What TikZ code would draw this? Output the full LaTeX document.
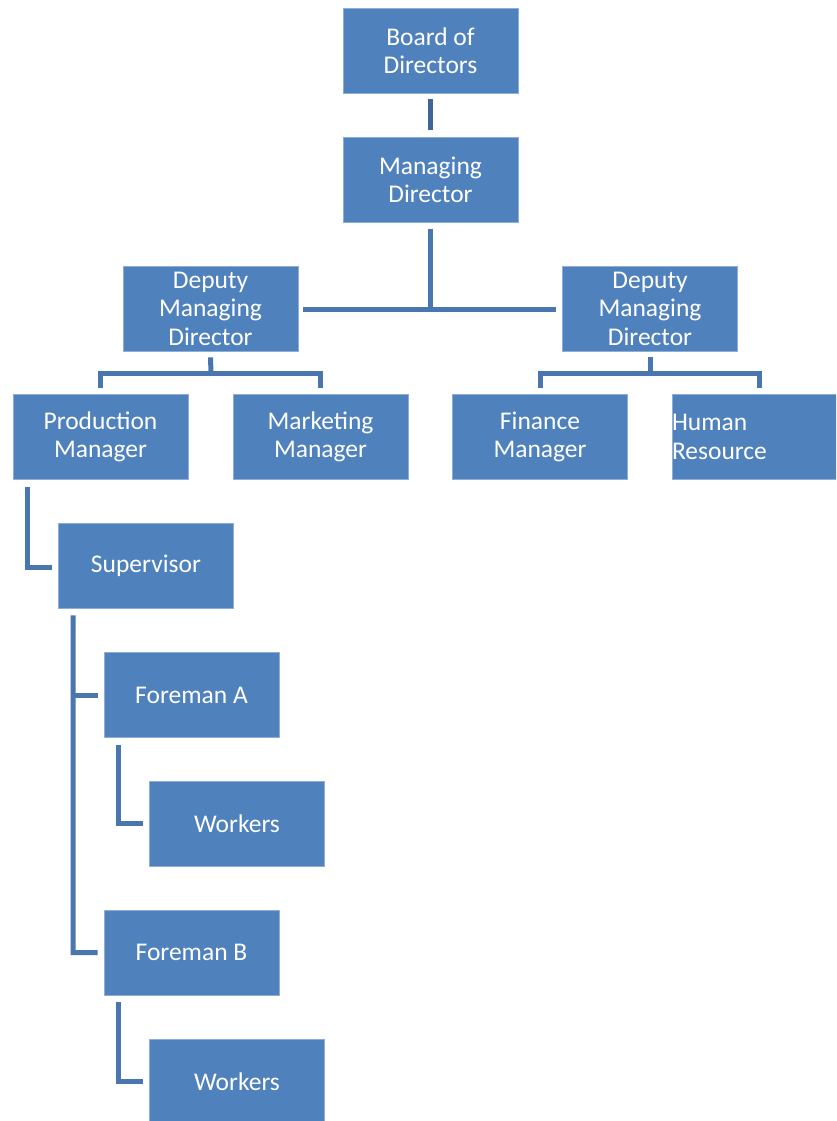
\documentclass[tikz,border=0pt]{standalone}
\usepackage{fontspec}
\setmainfont{Carlito}
\definecolor{boxfill}{HTML}{4F81BD}
\definecolor{boxline}{HTML}{8EAEDA}
\definecolor{conn}{HTML}{4A76AF}
\definecolor{conndark}{HTML}{3E6698}
\begin{document}
\begin{tikzpicture}[x=1pt,y=-1pt,
  orgbox/.style={rectangle,fill=boxfill,draw=boxline,line width=0.8pt,
    minimum width=175pt,minimum height=85pt,inner sep=0pt,text=white,
    align=center,font=\fontsize{25.5}{28.5}\selectfont},
  link/.style={draw=conn,line width=5pt,line join=miter},
  linkdark/.style={draw=conndark,line width=5pt}]
\useasboundingbox (0,0) rectangle (836,1121);
\clip (0,0) rectangle (836,1121);
\fill[white] (0,0) rectangle (836,1121);
% boxes
\node[orgbox] (bod) at (430.5,50.5) {Board of\\Directors};
\node[orgbox] (md) at (430.5,180) {Managing\\Director};
\node[orgbox] (dl) at (210.5,308.5) {Deputy\\Managing\\Director};
\node[orgbox] (dr) at (650,308.5) {Deputy\\Managing\\Director};
\node[orgbox] (pm) at (100.5,437) {Production\\Manager};
\node[orgbox] (mm) at (320.5,437) {Marketing\\Manager};
\node[orgbox] (fm) at (540,437) {Finance\\Manager};
\node[orgbox,text width=175pt,align=left] (hr) at (759.5,437) {Human\\Resource};
\node[orgbox] (sup) at (146,565.5) {Supervisor};
\node[orgbox] (fa) at (191.5,695) {Foreman A};
\node[orgbox] (wa) at (237,823.5) {Workers};
\node[orgbox] (fb) at (191.5,952.5) {Foreman B};
\node[orgbox] (wb) at (237,1081.5) {Workers};
% connectors
\draw[linkdark] ([yshift=-6pt]bod.south) -- ([yshift=7pt]md.north);
\coordinate (mdj) at (430.5,309);
\draw[link] ([yshift=-6pt]md.south) -- (mdj);
\draw[link] ([xshift=5pt]dl.east |- mdj) -- ([xshift=-6pt]dr.west |- mdj);
% left bracket
\coordinate (lj) at (211,373);
\draw[link] ([yshift=-6pt]dl.south) -- (lj);
\draw[link] ([yshift=6pt]pm.north) |- (lj) -| ([yshift=6pt]mm.north);
% right bracket
\coordinate (rj) at (650,373);
\draw[link] ([yshift=-6pt]dr.south) -- (rj);
\draw[link] ([yshift=6pt]fm.north) |- (rj) -| ([xshift=88pt,yshift=6pt]hr.north west);
% production manager -> supervisor
\draw[link] ([xshift=15pt,yshift=-7pt]pm.south west) |- ([xshift=-6pt,yshift=-1.5pt]sup.west);
% supervisor -> foremen
\coordinate (sj) at (73,952.5);
\draw[link] ([xshift=15pt,yshift=-7pt]sup.south west) -- (sj) -- ([xshift=-6pt]fb.west);
\draw[link] (73,695) -- ([xshift=-6pt]fa.west);
% foremen -> workers
\draw[link] ([xshift=15pt,yshift=-7pt]fa.south west) |- ([xshift=-6pt]wa.west);
\draw[link] ([xshift=15pt,yshift=-7pt]fb.south west) |- ([xshift=-6pt]wb.west);
\end{tikzpicture}
\end{document}
